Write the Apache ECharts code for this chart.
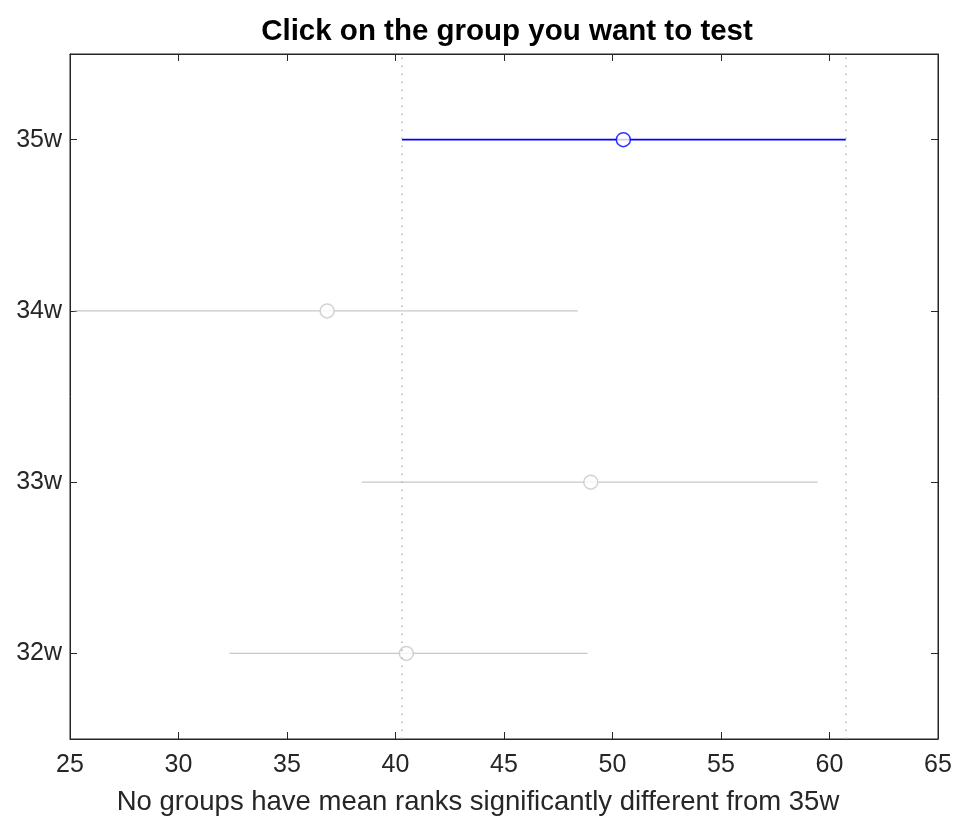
<!DOCTYPE html>
<html>
<head>
<meta charset="utf-8">
<script src="https://cdn.jsdelivr.net/npm/echarts@6/dist/echarts.min.js"></script>
<style>
  html, body { margin: 0; padding: 0; background: #fff; }
  #chart { width: 957px; height: 821px; }
</style>
</head>
<body>
<div id="chart"></div>
<script>
// groups from bottom to top
var groups = ['32w', '33w', '34w', '35w'];
var means = [40.5, 49.0, 36.85, 50.5];
var lows = [32.35, 38.45, 25.2, 40.3];
var highs = [48.85, 59.45, 48.4, 60.75];
var xTicks = [25, 30, 35, 40, 45, 50, 55, 60, 65];
var selected = 3; // index of 35w

var chart = echarts.init(document.getElementById('chart'));
var txt = '#262626';
var grey = '#c8c8c8';
var blue = '#0000ff';

var series = [];
groups.forEach(function (g, i) {
    var col = i === selected ? blue : grey;
    var s = {
        type: 'line',
        data: [[lows[i], g], [highs[i], g]],
        symbol: 'none',
        lineStyle: { color: col, width: i === selected ? 1.8 : 1.4 },
        silent: true,
        z: 2
    };
    if (i === selected) {
        s.markLine = {
            silent: true,
            symbol: 'none',
            label: { show: false },
            lineStyle: { color: '#b4b4b4', type: [1.5, 6.5], width: 1.5 },
            data: [{ xAxis: lows[i] }, { xAxis: highs[i] }]
        };
    }
    series.push(s);
    series.push({
        type: 'scatter',
        data: [[means[i], g]],
        symbol: 'circle',
        symbolSize: 14,
        itemStyle: { color: '#fff', borderColor: col, borderWidth: 1.5 },
        silent: true,
        z: 3
    });
});

var option = {
    backgroundColor: '#fff',
    animation: false,
    title: {
        text: 'Click on the group you want to test',
        left: 502,
        top: 12,
        textAlign: 'center',
        textStyle: { fontFamily: 'Liberation Sans', fontSize: 29.5, fontWeight: 'bold', color: '#000' }
    },
    grid: {
        left: 70, right: 19, top: 54, bottom: 81,
        show: true, borderColor: txt, borderWidth: 1
    },
    xAxis: [{
        type: 'value',
        min: 25, max: 65, interval: 5,
        position: 'bottom',
        name: 'No groups have mean ranks significantly different from 35w',
        nameLocation: 'middle',
        nameGap: 49,
        nameTextStyle: { fontFamily: 'Liberation Sans', fontSize: 27.5, color: txt, padding: [0, 52, 0, 0] },
        axisLine: { show: true, lineStyle: { color: txt } },
        axisTick: { show: true, inside: true, length: 7, lineStyle: { color: txt } },
        axisLabel: {
            margin: 14, fontFamily: 'Liberation Sans', fontSize: 25, color: txt,
            formatter: function (v) { return xTicks.indexOf(v) >= 0 ? String(v) : ''; }
        },
        splitLine: { show: false }
    }, {
        type: 'value',
        min: 25, max: 65, interval: 5,
        position: 'top',
        axisLine: { show: true, lineStyle: { color: txt } },
        axisTick: { show: true, inside: true, length: 7, lineStyle: { color: txt } },
        axisLabel: { show: false },
        splitLine: { show: false }
    }],
    yAxis: [{
        type: 'category',
        data: groups,
        position: 'left',
        axisLine: { show: true, lineStyle: { color: txt } },
        axisTick: { show: true, inside: true, alignWithLabel: true, length: 7, lineStyle: { color: txt } },
        axisLabel: { margin: 8, fontFamily: 'Liberation Sans', fontSize: 25, color: txt },
        splitLine: { show: false }
    }, {
        type: 'category',
        data: groups,
        position: 'right',
        axisLine: { show: true, lineStyle: { color: txt } },
        axisTick: { show: true, inside: true, alignWithLabel: true, length: 7, lineStyle: { color: txt } },
        axisLabel: { show: false },
        splitLine: { show: false }
    }],
    series: series
};
chart.setOption(option);
</script>
</body>
</html>
